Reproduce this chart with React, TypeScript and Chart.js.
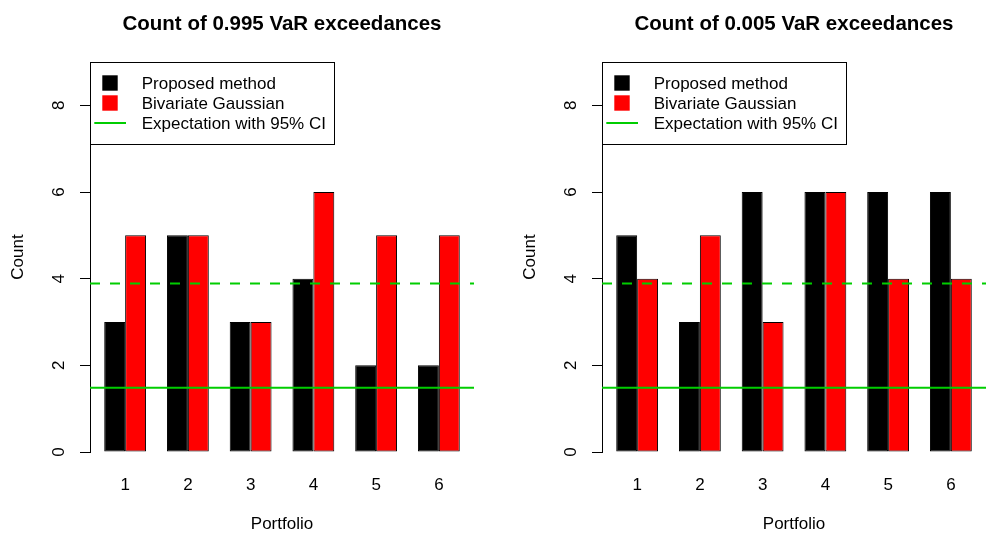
import React, { useEffect, useRef } from 'react';
import { Chart, registerables } from 'chart.js';

Chart.register(...registerables);

// ---------- data ----------
const portfolios = ['1', '2', '3', '4', '5', '6'];
const seriesNames = ['Proposed method', 'Bivariate Gaussian'];
const seriesColors = ['#000000', '#FF0000'];
const expectationLabel = 'Expectation with 95% CI';
const ciColor = '#00CD00';
const expectation = 1.48;
const upperCI = 3.89;
const yTicks = [0, 2, 4, 6, 8];
const yMax = 9;

const title995 = 'Count of 0.995 VaR exceedances';
const proposed995 = [3, 5, 3, 4, 2, 2];
const gaussian995 = [5, 5, 3, 6, 5, 5];

const title005 = 'Count of 0.005 VaR exceedances';
const proposed005 = [5, 3, 6, 6, 6, 6];
const gaussian005 = [4, 5, 3, 6, 4, 4];

// ---------- styling ----------
const FAMILY = "'Liberation Sans', Arial, Helvetica, sans-serif";
const FONT = { family: FAMILY, size: 17 };

const rLegend = {
  id: 'rLegend',
  afterDraw(chart: any) {
    const ctx = chart.ctx;
    const { left, top } = chart.chartArea;
    const items = chart.data.datasets
      .filter((d: any) => !d.hideInLegend)
      .map((d: any) => ({ label: d.label, type: d.type, color: d.type === 'bar' ? d.backgroundColor : d.borderColor }));
    ctx.save();
    ctx.font = `17px ${FAMILY}`;
    const textX = left + 51.7;
    const maxW = Math.max(...items.map((it: any) => ctx.measureText(it.label).width));
    const right = textX + maxW + 8.3;
    const rowH = 20;
    const padY = 21;
    const bottom = top + padY * 2 + rowH * (items.length - 1);
    const L = Math.round(left) + 0.5;
    const T = Math.round(top) + 0.5;
    const W = Math.round(right - left);
    const H = Math.round(bottom - top);
    ctx.fillStyle = '#ffffff';
    ctx.fillRect(L, T, W, H);
    ctx.strokeStyle = '#000000';
    ctx.lineWidth = 1;
    ctx.strokeRect(L, T, W, H);
    items.forEach((it: any, i: number) => {
      const cy = top + padY + i * rowH;
      if (it.type === 'bar') {
        ctx.fillStyle = it.color;
        ctx.fillRect(left + 12.3, cy - 7.7, 15.4, 15.4);
      } else {
        ctx.strokeStyle = it.color;
        ctx.lineWidth = 2;
        ctx.beginPath();
        ctx.moveTo(left + 4.3, cy);
        ctx.lineTo(left + 36, cy);
        ctx.stroke();
      }
      ctx.fillStyle = '#000000';
      ctx.textAlign = 'left';
      ctx.textBaseline = 'middle';
      ctx.fillText(it.label, textX, cy + 1);
    });
    ctx.restore();
  },
};

function Panel(props: { title: string; proposed: number[]; gaussian: number[]; left: number; width: number; padRight: number }) {
  const ref = useRef<HTMLCanvasElement>(null);
  useEffect(() => {
    const n = portfolios.length;
    const groupX = portfolios.map((_, i) => 3 * i + 2);
    const lo = 1;
    const hi = 3 * n;
    const pad = 0.04 * (hi - lo);
    const xMin = lo - pad;
    const xMax = hi + pad;
    const series = [props.proposed, props.gaussian];
    const chart = new Chart(ref.current as HTMLCanvasElement, {
      type: 'bar',
      data: {
        datasets: [
          ...series.map((vals, s) => ({
            type: 'bar' as const,
            label: seriesNames[s],
            data: vals.map((v, i) => ({ x: groupX[i], y: v })),
            backgroundColor: seriesColors[s],
            borderColor: '#000000',
            borderWidth: 1,
            borderSkipped: false,
            categoryPercentage: 2 / 3,
            barPercentage: 1,
            order: 1,
          })),
          {
            type: 'line' as const,
            label: expectationLabel,
            data: [{ x: xMin, y: expectation }, { x: xMax, y: expectation }],
            borderColor: ciColor,
            borderWidth: 2,
            pointRadius: 0,
            fill: false,
            order: 0,
          },
          {
            type: 'line' as const,
            label: 'Upper 95% CI',
            hideInLegend: true,
            data: [{ x: xMin, y: upperCI }, { x: xMax, y: upperCI }],
            borderColor: ciColor,
            borderWidth: 2,
            borderDash: [10, 10],
            pointRadius: 0,
            fill: false,
            order: 0,
          } as any,
        ],
      },
      options: {
        animation: false,
        responsive: false,
        events: [],
        layout: { padding: { left: 0, right: props.padRight, top: 0, bottom: 0 } },
        plugins: {
          legend: { display: false },
          tooltip: { enabled: false },
          title: {
            display: true,
            text: props.title,
            color: '#000000',
            font: { family: FAMILY, size: 20.5, weight: 'bold' },
            padding: { top: 12, bottom: 25.4 },
            fullSize: false,
          },
        },
        scales: {
          x: {
            type: 'linear',
            offset: false,
            min: xMin,
            max: xMax,
            afterBuildTicks: (s: any) => {
              s.ticks = groupX.map((v) => ({ value: v }));
            },
            afterFit: (s: any) => {
              s.height = 85;
            },
            ticks: {
              font: FONT,
              color: '#000000',
              padding: 23,
              autoSkip: false,
              maxRotation: 0,
              callback: (v: any) => {
                const k = groupX.indexOf(Number(v));
                return k >= 0 ? portfolios[k] : '';
              },
            },
            grid: { display: false, drawTicks: false, offset: false },
            border: { display: false },
            title: { display: true, text: 'Portfolio', font: FONT, color: '#000000', padding: { top: 0, bottom: 2 } },
          },
          y: {
            type: 'linear',
            min: 0,
            max: yMax,
            afterBuildTicks: (s: any) => {
              s.ticks = yTicks.map((v) => ({ value: v }));
            },
            afterFit: (s: any) => {
              s.width = 90;
            },
            ticks: {
              font: FONT,
              color: '#000000',
              minRotation: 90,
              maxRotation: 90,
              crossAlign: 'center',
              padding: 16,
            },
            grid: { drawOnChartArea: false, drawTicks: true, tickLength: 10, color: '#000000', lineWidth: 1 },
            border: { display: true, color: '#000000', width: 1 },
            title: { display: true, text: 'Count', font: FONT, color: '#000000', padding: { top: 8, bottom: 0 } },
          },
        },
      } as any,
      plugins: [rLegend],
    });
    return () => chart.destroy();
  }, []);
  return (
    <canvas
      ref={ref}
      width={props.width}
      height={537}
      style={{ position: 'absolute', left: props.left, top: 0, width: props.width, height: 537 }}
    />
  );
}

export default function App() {
  return (
    <div style={{ position: 'absolute', left: 0, top: 0, width: 989, height: 537, background: '#ffffff', overflow: 'hidden' }}>
      <Panel title={title995} proposed={proposed995} gaussian={gaussian995} left={0} width={494} padRight={20} />
      <Panel title={title005} proposed={proposed005} gaussian={gaussian005} left={512} width={477} padRight={3} />
    </div>
  );
}
